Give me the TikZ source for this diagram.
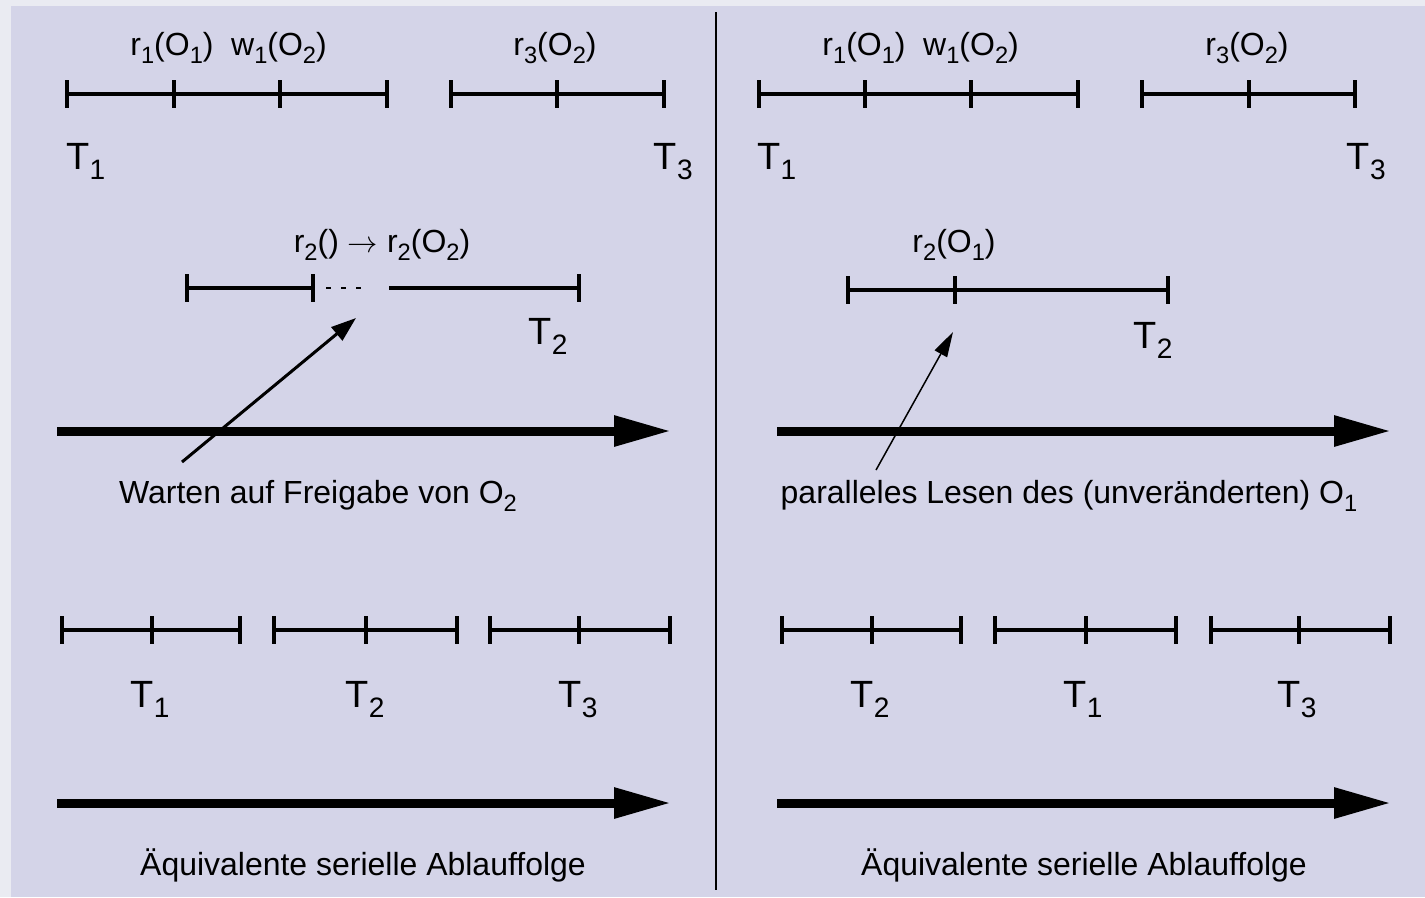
\documentclass[tikz,border=0pt]{standalone}
\usepackage{fontspec}
\setmainfont{Liberation Sans}
\usetikzlibrary{arrows.meta}

\definecolor{outerbg}{HTML}{EAEBF2}
\definecolor{panelbg}{HTML}{D4D4E8}

\newcommand{\lo}[1]{\raisebox{-0.28em}{\scalebox{0.74}{#1}}}
% timeline: y, from, to, tick positions
\newcommand{\tline}[4]{%
  \draw[seg] (#2,#1) -- (#3,#1);
  \foreach \x in {#4} \draw[seg] (\x,#1-14) -- (\x,#1+14);}

\begin{document}
\begin{tikzpicture}[x=0.02cm, y=-0.02cm]

% --- Style definitions ---
\tikzset{
    seg/.style = {line width=0.08cm, line cap=butt},
    lbl/.style = {font=\fontsize{18.2}{22}\selectfont, inner sep=0pt, anchor=base},
    tname/.style = {font=\fontsize{21.6}{26}\selectfont, inner sep=0pt, anchor=base},
    bigarrow/.style = {line width=0.18cm, -{Triangle[length=1.14cm, width=0.58cm]}},
    pointer/.style = {line width=0.06cm, -{Triangle[length=0.5cm, width=0.34cm]}},
    thinpointer/.style = {line width=0.03cm, -{Triangle[length=0.5cm, width=0.28cm]}},
    divider/.style = {line width=0.04cm},
}

% --- Background ---
\useasboundingbox (0,0) rectangle (1425,897);
\fill[outerbg] (0,0) rectangle (1425,897);
\fill[panelbg] (11,6) rectangle (1425,897);
\draw[divider] (716,12) -- (716,890);

% --- Left: concurrent schedule ---
\tline{94}{67}{387}{67,174,280,387}
\tline{94}{451}{664}{451,557,664}
\node (l-r1) [lbl] at (172,55) {r\lo{1}(O\lo{1})};
\node (l-w1) [lbl] at (279,55) {w\lo{1}(O\lo{2})};
\node (l-r3) [lbl] at (555,55) {r\lo{3}(O\lo{2})};
\node (l-t1) [tname, anchor=base west] at (66,169) {T\lo{1}};
\node (l-t3) [tname, anchor=base east] at (693,169) {T\lo{3}};

\draw[seg] (187,288) -- (313,288);
\draw[seg] (389,288) -- (579,288);
\foreach \x in {187,313,579} \draw[seg] (\x,274) -- (\x,302);
\draw[line width=0.03cm, dash pattern=on 0.1cm off 0.2cm] (326,288) -- (370,288);
\node (l-r2) [lbl] at (382,252) {r\lo{2}() $\rightarrow$ r\lo{2}(O\lo{2})};
\node (l-t2) [tname] at (548,344) {T\lo{2}};

\draw[bigarrow] (57,431) -- (671,431);
\node (l-wait) [lbl] at (318,503) {Warten auf Freigabe von O\lo{2}};
\coordinate (wait-from) at (182,462);
\coordinate (wait-to) at (356,318);
\draw[pointer] (wait-from) -- (wait-to);

% --- Left: equivalent serial order ---
\tline{630}{62}{240}{62,152,240}
\tline{630}{274}{457}{274,366,457}
\tline{630}{490}{670}{490,579,670}
\node (l-s1) [tname] at (150,707) {T\lo{1}};
\node (l-s2) [tname] at (365,707) {T\lo{2}};
\node (l-s3) [tname] at (578,707) {T\lo{3}};
\draw[bigarrow] (57,803) -- (671,803);
\node (l-serial) [lbl] at (363,875) {Äquivalente serielle Ablauffolge};

% --- Right: concurrent schedule ---
\tline{94}{759}{1078}{759,865,971,1078}
\tline{94}{1142}{1355}{1142,1249,1355}
\node (r-r1) [lbl] at (864,55) {r\lo{1}(O\lo{1})};
\node (r-w1) [lbl] at (971,55) {w\lo{1}(O\lo{2})};
\node (r-r3) [lbl] at (1247,55) {r\lo{3}(O\lo{2})};
\node (r-t1) [tname, anchor=base west] at (757,169) {T\lo{1}};
\node (r-t3) [tname, anchor=base east] at (1386,169) {T\lo{3}};

\tline{290}{848}{1168}{848,955,1168}
\node (r-r2) [lbl] at (954,252) {r\lo{2}(O\lo{1})};
\node (r-t2) [tname] at (1153,348) {T\lo{2}};

\draw[bigarrow] (777,431) -- (1391,431);
\node (r-read) [lbl] at (1069,503) {paralleles Lesen des (unveränderten) O\lo{1}};
\coordinate (read-from) at (876,470);
\coordinate (read-to) at (953,332);
\draw[thinpointer] (read-from) -- (read-to);

% --- Right: equivalent serial order ---
\tline{630}{782}{961}{782,872,961}
\tline{630}{995}{1176}{995,1086,1176}
\tline{630}{1211}{1390}{1211,1299,1390}
\node (r-s2) [tname] at (870,707) {T\lo{2}};
\node (r-s1) [tname] at (1083,707) {T\lo{1}};
\node (r-s3) [tname] at (1297,707) {T\lo{3}};
\draw[bigarrow] (777,803) -- (1391,803);
\node (r-serial) [lbl] at (1084,875) {Äquivalente serielle Ablauffolge};

\end{tikzpicture}
\end{document}
